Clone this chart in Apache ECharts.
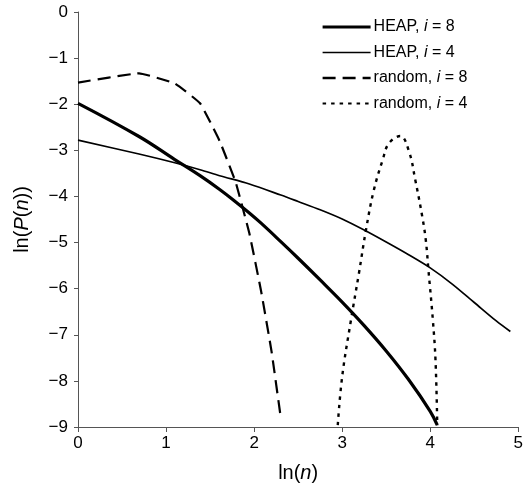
<!DOCTYPE html>
<html>
<head>
<meta charset="utf-8">
<script src="https://cdn.jsdelivr.net/npm/echarts@6/dist/echarts.min.js"></script>
<style>
  html, body { margin: 0; padding: 0; background: #fff; }
  #chart { width: 526px; height: 492px; }
</style>
</head>
<body>
<div id="chart"></div>
<script>
// 刻度
const xTicks = [0, 1, 2, 3, 4, 5]
const yTicks = [0, -1, -2, -3, -4, -5, -6, -7, -8, -9]

// HEAP, i = 8
const heap8X = [0, 0.693, 1.099, 1.386, 1.609, 1.792, 1.946, 2.079, 2.303, 2.5, 2.75, 3.0, 3.25, 3.5, 3.75, 4.0, 4.08]
const heap8Y = [-1.98, -2.7, -3.2, -3.55, -3.85, -4.12, -4.36, -4.58, -4.98, -5.34, -5.81, -6.29, -6.8, -7.35, -7.96, -8.66, -8.96]

// HEAP, i = 4
const heap4X = [0, 0.693, 1.099, 1.386, 1.609, 1.946, 2.303, 2.5, 2.75, 3.0, 3.25, 3.5, 3.75, 4.0, 4.25, 4.5, 4.75, 4.91]
const heap4Y = [-2.78, -3.08, -3.27, -3.42, -3.55, -3.73, -3.97, -4.11, -4.29, -4.49, -4.73, -4.99, -5.26, -5.55, -5.9, -6.3, -6.7, -6.93]

// random, i = 8
const rand8X = [0, 0.693, 1.099, 1.386, 1.609, 1.792, 1.946, 2.079, 2.197, 2.303]
const rand8Y = [-1.53, -1.33, -1.55, -1.98, -2.8, -3.7, -4.8, -6.05, -7.35, -8.8]

// random, i = 4
const rand4X = [2.95, 3.0, 3.1, 3.19, 3.27, 3.36, 3.46, 3.53, 3.66, 3.76, 3.83, 3.91, 3.95, 3.98, 4.03, 4.06, 4.08]
const rand4Y = [-8.96, -7.91, -6.68, -5.67, -4.73, -3.86, -3.21, -2.85, -2.69, -3.03, -3.64, -4.44, -4.95, -5.6, -6.68, -7.55, -8.96]

function zip(xs, ys) {
  return xs.map((x, i) => [x, ys[i]])
}

const font = 'Liberation Sans, Arial, sans-serif'
const legendNames = {
  'HEAP, i = 8': '{n|HEAP, }{i|i}{n| = 8}',
  'HEAP, i = 4': '{n|HEAP, }{i|i}{n| = 4}',
  'random, i = 8': '{n|random, }{i|i}{n| = 8}',
  'random, i = 4': '{n|random, }{i|i}{n| = 4}',
}

const option = {
  animation: false,
  backgroundColor: '#fff',
  grid: { left: 78, right: 6, top: 12, bottom: 65 },
  legend: {
    orient: 'vertical',
    left: 316,
    top: 14,
    itemWidth: 48,
    itemHeight: 12,
    itemGap: 9.5,
    itemStyle: { opacity: 0 },
    data: [
      { name: 'HEAP, i = 8', lineStyle: { width: 3.2 } },
      { name: 'HEAP, i = 4', lineStyle: { width: 1.7 } },
      { name: 'random, i = 8', lineStyle: { width: 2.4 } },
      { name: 'random, i = 4', lineStyle: { width: 2.2 } },
    ],
    formatter: (name) => legendNames[name],
    textStyle: {
      padding: [0, 0, 0, -2],
      rich: {
        n: { fontFamily: font, fontSize: 16, color: '#000' },
        i: { fontFamily: font, fontSize: 16, fontStyle: 'italic', color: '#000' },
      },
    },
  },
  xAxis: {
    type: 'value',
    min: 0,
    max: 5,
    interval: 1,
    name: '{n|ln(}{i|n}{n|)}',
    nameLocation: 'middle',
    nameGap: 36,
    nameTextStyle: {
      rich: {
        n: { fontFamily: font, fontSize: 20, color: '#000' },
        i: { fontFamily: font, fontSize: 20, fontStyle: 'italic', color: '#000' },
      },
    },
    splitLine: { show: false },
    axisLine: { onZero: false, lineStyle: { color: '#555', width: 1 } },
    axisTick: { show: true, inside: false, length: 5, lineStyle: { color: '#555' } },
    axisLabel: { margin: 8, fontFamily: font, fontSize: 17, color: '#000' },
  },
  yAxis: {
    type: 'value',
    min: -9,
    max: 0,
    interval: 1,
    name: '{n|ln(}{i|P}{n|(}{i|n}{n|))}',
    nameLocation: 'middle',
    nameGap: 46,
    nameRotate: 90,
    nameTextStyle: {
      rich: {
        n: { fontFamily: font, fontSize: 20, color: '#000' },
        i: { fontFamily: font, fontSize: 20, fontStyle: 'italic', color: '#000' },
      },
    },
    splitLine: { show: false },
    axisLine: { show: true, onZero: false, lineStyle: { color: '#555', width: 1 } },
    axisTick: { show: true, inside: false, length: 4, lineStyle: { color: '#555' } },
    axisLabel: {
      margin: 10,
      fontFamily: font,
      fontSize: 17,
      color: '#000',
      formatter: (v) => String(v).replace('-', '\u2212'),
    },
  },
  series: [
    {
      name: 'HEAP, i = 8',
      type: 'line',
      symbol: 'none',
      smooth: 0.4,
      data: zip(heap8X, heap8Y),
      lineStyle: { color: '#000', width: 3.2 },
      itemStyle: { color: '#000' },
    },
    {
      name: 'HEAP, i = 4',
      type: 'line',
      symbol: 'none',
      smooth: 0.3,
      data: zip(heap4X, heap4Y),
      lineStyle: { color: '#000', width: 1.7 },
      itemStyle: { color: '#000' },
    },
    {
      name: 'random, i = 8',
      type: 'line',
      symbol: 'none',
      smooth: 0.1,
      data: zip(rand8X, rand8Y),
      lineStyle: { color: '#000', width: 2.2, type: [13, 7] },
      itemStyle: { color: '#000' },
    },
    {
      name: 'random, i = 4',
      type: 'line',
      symbol: 'none',
      smooth: 0.4,
      data: zip(rand4X, rand4Y),
      lineStyle: { color: '#000', width: 2.4, type: [3.5, 5] },
      itemStyle: { color: '#000' },
    },
  ],
}
echarts.init(document.getElementById('chart')).setOption(option)
</script>
</body>
</html>
